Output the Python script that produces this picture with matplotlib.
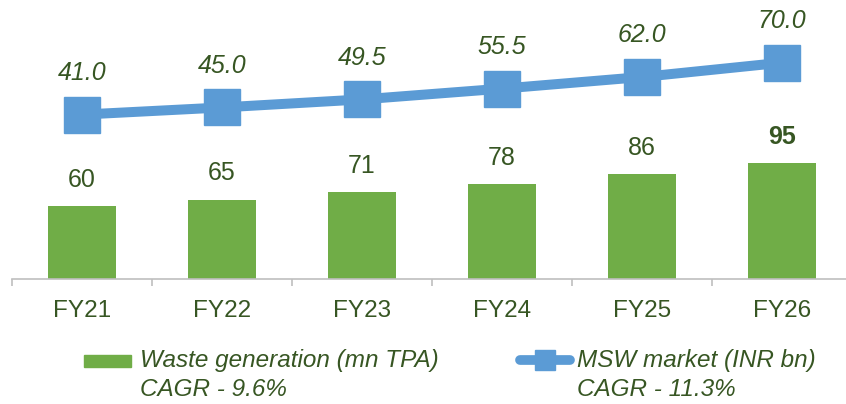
import matplotlib.pyplot as plt
from matplotlib.patches import Rectangle
from matplotlib.lines import Line2D

years = ['FY21', 'FY22', 'FY23', 'FY24', 'FY25', 'FY26']
waste = [60, 65, 71, 78, 86, 95]
msw = [41.0, 45.0, 49.5, 55.5, 62.0, 70.0]

green = '#70AD47'
blue = '#5B9BD5'
txt = '#375623'

plt.rcParams['font.family'] = ['Liberation Sans', 'DejaVu Sans']

W, H = 846, 404
fig = plt.figure(figsize=(W / 100, H / 100), dpi=100)
ax = fig.add_axes([12 / W, 125 / H, 840 / W, 279 / H])
x = list(range(len(years)))

ax.bar(x, waste, width=0.48, color=green)
ax.set_ylim(0, 229)
ax.set_xlim(-0.5, 5.5)
for i, v in enumerate(waste):
    ax.annotate(str(v), (i, v), xytext=(0, 19), textcoords='offset points',
                ha='center', va='center', fontsize=18, color=txt,
                fontweight='bold' if i == len(waste) - 1 else 'normal')

for s in ['top', 'right', 'left']:
    ax.spines[s].set_visible(False)
ax.spines['bottom'].set_color('#BFBFBF')
ax.spines['bottom'].set_linewidth(1.2)
ax.set_yticks([])
ax.set_xticks(x)
ax.set_xticklabels(years, fontsize=17.5, color=txt)
ax.tick_params(axis='x', which='major', length=0, pad=15)
ax.set_xticks([i - 0.5 for i in range(len(years) + 1)], minor=True)
ax.tick_params(axis='x', which='minor', length=5, color='#BFBFBF', width=1.2)

ax2 = ax.twinx()
ax2.plot(x, msw, color=blue, linewidth=7.2, marker='s', markersize=26,
         solid_capstyle='butt')
ax2.set_ylim(-50.8, 105)
ax2.set_yticks([])
for s in ['top', 'right', 'left', 'bottom']:
    ax2.spines[s].set_visible(False)
for i, v in enumerate(msw):
    ax2.annotate(f'{v:.1f}', (i, v), xytext=(0, 30), textcoords='offset points',
                 ha='center', va='center', fontsize=18, color=txt, style='italic')

# legend drawn by hand so the handle sits on the first text line
fig.patches.append(Rectangle((84 / W, 1 - 367 / H), 47 / W, 12 / H,
                             transform=fig.transFigure, color=green))
fig.text(140 / W, 1 - 360 / H, 'Waste generation (mn TPA)', fontsize=17.5,
         style='italic', color=txt, va='center')
fig.text(140 / W, 1 - 389 / H, 'CAGR - 9.6%', fontsize=17.5,
         style='italic', color=txt, va='center')
fig.lines.append(Line2D([520 / W, 570 / W], [1 - 360 / H, 1 - 360 / H],
                        transform=fig.transFigure, color=blue, linewidth=7,
                        solid_capstyle='round'))
fig.lines.append(Line2D([545 / W], [1 - 360 / H], transform=fig.transFigure,
                        color=blue, marker='s', markersize=15))
fig.text(577 / W, 1 - 360 / H, 'MSW market (INR bn)', fontsize=17.5,
         style='italic', color=txt, va='center')
fig.text(577 / W, 1 - 389 / H, 'CAGR - 11.3%', fontsize=17.5,
         style='italic', color=txt, va='center')

fig.savefig('out.png', dpi=100)
